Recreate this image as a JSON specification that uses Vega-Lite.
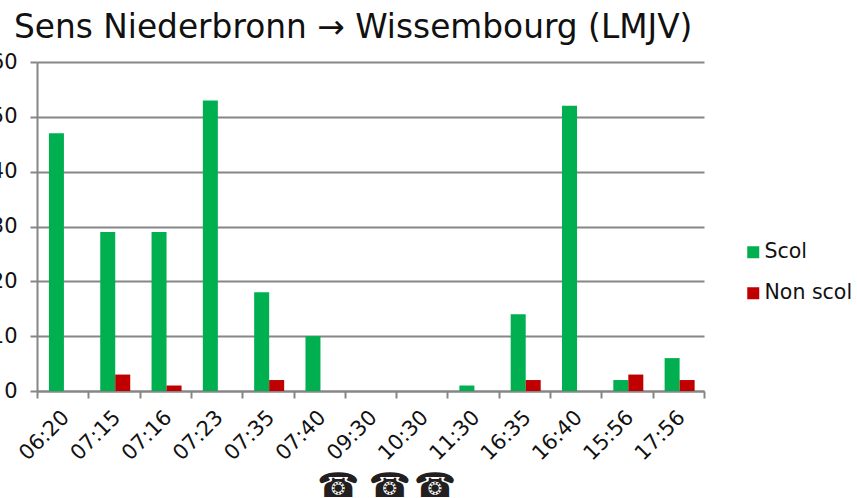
{
"$schema":"https://vega.github.io/schema/vega-lite/v6.json",
"width":667,"height":329,"autosize":{"type":"none"},
"padding":{"left":37,"top":62,"right":153,"bottom":107},
"background":"white",
"title":{"text":"Sens Niederbronn → Wissembourg (LMJV)","font":"DejaVu Sans","fontSize":32.8,"fontWeight":"normal","color":"#111111","anchor":"start","frame":"group","dx":-23,"dy":0,"offset":6},
"config":{"view":{"stroke":null}},
"datasets":{
"bars":[
{"time":"06:20","series":"Scol","count":47},{"time":"06:20","series":"Non scol","count":0},
{"time":"07:15","series":"Scol","count":29},{"time":"07:15","series":"Non scol","count":3},
{"time":"07:16","series":"Scol","count":29},{"time":"07:16","series":"Non scol","count":1},
{"time":"07:23","series":"Scol","count":53},{"time":"07:23","series":"Non scol","count":0},
{"time":"07:35","series":"Scol","count":18},{"time":"07:35","series":"Non scol","count":2},
{"time":"07:40","series":"Scol","count":10},{"time":"07:40","series":"Non scol","count":0},
{"time":"09:30","series":"Scol","count":0},{"time":"09:30","series":"Non scol","count":0},
{"time":"10:30","series":"Scol","count":0},{"time":"10:30","series":"Non scol","count":0},
{"time":"11:30","series":"Scol","count":1},{"time":"11:30","series":"Non scol","count":0},
{"time":"16:35","series":"Scol","count":14},{"time":"16:35","series":"Non scol","count":2},
{"time":"16:40","series":"Scol","count":52},{"time":"16:40","series":"Non scol","count":0},
{"time":"15:56","series":"Scol","count":2},{"time":"15:56","series":"Non scol","count":3},
{"time":"17:56","series":"Scol","count":6},{"time":"17:56","series":"Non scol","count":2}
],
"phones":[{"time":"09:30","icon":"☎"},{"time":"10:30","icon":"☎"},{"time":"11:30","icon":"☎"}]
},
"encoding":{
"x":{"field":"time","type":"nominal","sort":null,"title":null,
"scale":{"domain":["06:20","07:15","07:16","07:23","07:35","07:40","09:30","10:30","11:30","16:35","16:40","15:56","17:56"],"paddingInner":0,"paddingOuter":0},
"axis":{"tickBand":"extent","labelAngle":-45,"labelAlign":"right","labelBaseline":"middle","labelFont":"DejaVu Sans","labelFontSize":21,"labelColor":"#111111","labelPadding":16,"labelOffset":3,"domainColor":"#868686","domainWidth":2,"tickColor":"#868686","tickWidth":2,"tickSize":7,"grid":false,"labelOverlap":false}}
},
"layer":[
{"data":{"name":"bars"},"mark":{"type":"bar"},
"encoding":{
"xOffset":{"field":"series","type":"nominal","scale":{"domain":["Scol","Non scol"],"paddingInner":0,"paddingOuter":0.71,"align":0.56}},
"y":{"field":"count","type":"quantitative","title":null,"scale":{"domain":[0,60],"nice":false},
"axis":{"values":[0,10,20,30,40,50,60],"labelFont":"DejaVu Sans","labelFontSize":21,"labelColor":"#111111","labelPadding":13,"domainColor":"#868686","domainWidth":2,"tickColor":"#868686","tickWidth":2,"tickSize":7,"grid":true,"gridColor":"#868686","gridWidth":2}},
"color":{"field":"series","type":"nominal","title":null,"scale":{"domain":["Scol","Non scol"],"range":["#00B050","#C00000"]},
"legend":{"orient":"none","legendX":706,"legendY":180,"symbolType":"square","symbolSize":144,"symbolOpacity":1,"symbolStrokeWidth":0,"labelFont":"DejaVu Sans","labelFontSize":20.5,"labelColor":"#111111","rowPadding":20,"labelOffset":1,"title":null}}
}},
{"data":{"name":"phones"},"transform":[{"filter":"datum.time !== '11:30'"}],
"mark":{"type":"text","font":"DejaVu Sans","fontSize":34,"color":"#231f20","dx":-32,"baseline":"middle","clip":false},
"encoding":{"y":{"datum":-17.5,"type":"quantitative"},"text":{"field":"icon"}}},
{"data":{"name":"phones"},"transform":[{"filter":"datum.time === '11:30'"}],
"mark":{"type":"text","font":"DejaVu Sans","fontSize":34,"color":"#231f20","dx":-38,"baseline":"middle","clip":false},
"encoding":{"y":{"datum":-17.5,"type":"quantitative"},"text":{"field":"icon"}}}
]
}
